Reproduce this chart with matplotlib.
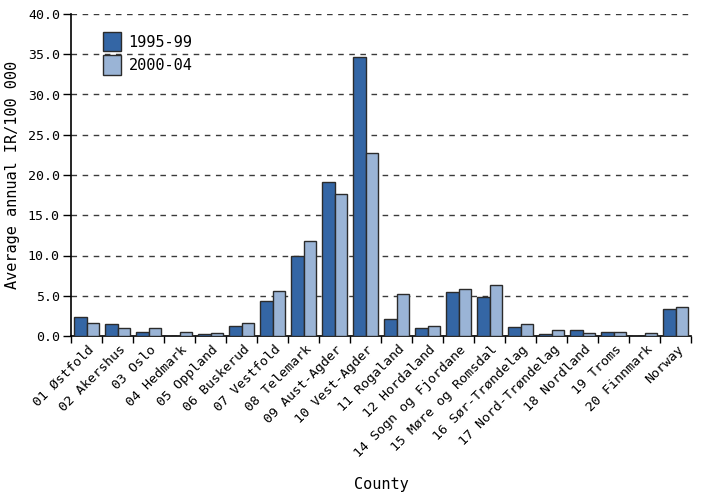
import matplotlib
matplotlib.use("Agg")
import matplotlib.pyplot as plt
import numpy as np

counties = ["01 Østfold", "02 Akershus", "03 Oslo", "04 Hedmark", "05 Oppland",
            "06 Buskerud", "07 Vestfold", "08 Telemark", "09 Aust-Agder", "10 Vest-Agder",
            "11 Rogaland", "12 Hordaland", "14 Sogn og Fjordane", "15 Møre og Romsdal",
            "16 Sør-Trøndelag", "17 Nord-Trøndelag", "18 Nordland", "19 Troms",
            "20 Finnmark", "Norway"]
ir_1995_99 = [2.3, 1.45, 0.5, 0.0, 0.3, 1.25, 4.3, 9.9, 19.1, 34.7,
              2.05, 1.05, 5.45, 4.8, 1.1, 0.25, 0.7, 0.5, 0.0, 3.35]
ir_2000_04 = [1.6, 1.0, 1.0, 0.45, 0.35, 1.6, 5.6, 11.8, 17.7, 22.7,
              5.25, 1.2, 5.9, 6.3, 1.5, 0.75, 0.4, 0.5, 0.35, 3.55]
series_labels = ["1995-99", "2000-04"]
yticks = [0, 5, 10, 15, 20, 25, 30, 35, 40]

plt.rcParams['font.family'] = ['DejaVu Sans Mono']
fig = plt.figure(figsize=(7.02, 4.97), dpi=100)
ax = fig.add_axes([71/702, 1-336/497, (691-71)/702, (336-14)/497])

x = np.arange(len(counties)) + 0.5
w = 0.41
dark = "#3466a5"
light = "#9ab4d6"
ax.bar(x - w/2, ir_1995_99, width=w, color=dark, edgecolor="#2b2b2b", linewidth=1.0,
       label=series_labels[0], zorder=3)
ax.bar(x + w/2, ir_2000_04, width=w, color=light, edgecolor="#2b2b2b", linewidth=1.0,
       label=series_labels[1], zorder=3)

ax.set_xlim(0, len(counties))
ax.set_ylim(0, 40)
ax.set_yticks(yticks)
ax.set_yticklabels([f"{v:.1f}" for v in yticks], fontsize=9.5)
ax.yaxis.grid(True, linestyle=(0, (4, 4)), color="#3a3a3a", linewidth=1.0, zorder=0)
ax.set_axisbelow(True)

ax.set_xticks(np.arange(len(counties) + 1))
ax.set_xticklabels([])
ax.set_xticks(x + 0.04, minor=True)
ax.set_xticklabels(counties, minor=True, rotation=45, ha='right', rotation_mode='anchor', fontsize=9.5)
ax.tick_params(axis='x', which='minor', length=0, pad=5)
ax.tick_params(axis='x', which='major', length=5, width=1, direction='out')
ax.tick_params(axis='y', length=6, width=1, direction='out', pad=2)

for s in ["top", "right"]:
    ax.spines[s].set_visible(False)
ax.spines["left"].set_linewidth(1.2)
ax.spines["bottom"].set_linewidth(1.2)

ax.set_ylabel("Average annual IR/100 000", fontsize=11, labelpad=6)
fig.text((71+691)/2/702, 1-485/497, "County", ha='center', va='center', fontsize=11)

leg = ax.legend(loc='upper left', bbox_to_anchor=(0.052, 0.945), frameon=False, fontsize=11,
                borderaxespad=0, borderpad=0,
                handlelength=1.15, handleheight=1.6, handletextpad=0.5, labelspacing=0.25)

fig.savefig("out.png", dpi=100)
